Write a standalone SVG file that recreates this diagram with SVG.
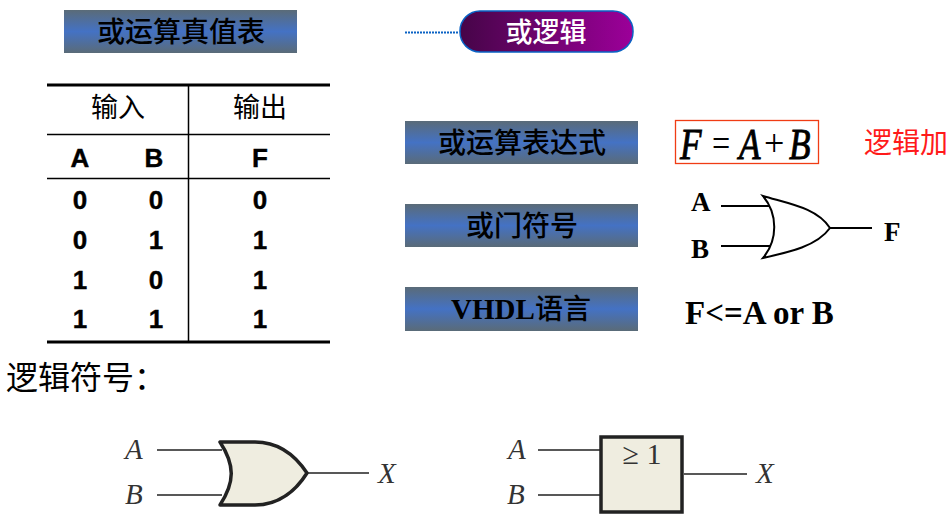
<svg xmlns="http://www.w3.org/2000/svg" width="950" height="525" viewBox="0 0 950 525">
<style>
.cn{font-family:"Noto Sans CJK SC",sans-serif}
.sa{font-family:"Liberation Sans",Arial,sans-serif;font-weight:bold;font-size:26px;text-anchor:middle;fill:#000;stroke:#000;stroke-width:.4}
.tt{font-size:28px;text-anchor:middle;fill:#000;font-family:"Noto Sans CJK SC",sans-serif;font-weight:500}
.th{font-size:27px;text-anchor:middle;fill:#000;font-family:"Noto Sans CJK SC",sans-serif}
.bar{fill:url(#bg)}
.it{font-family:"Liberation Serif",serif;font-style:italic;font-size:29px;fill:#333}
.eq{font-family:"Liberation Serif",serif;font-style:italic;font-size:44px;fill:#000;stroke:#000;stroke-width:.9}
.op{font-family:"Liberation Serif",serif;font-size:38px;fill:#000}
.w{stroke:#000;stroke-width:2;fill:none}
.w2{stroke:#222;stroke-width:1.600;fill:none}
.b{font-family:"Liberation Serif",serif;font-weight:bold;fill:#000}
</style>
<defs>
<linearGradient id="bg" x1="0" y1="0" x2="0" y2="1"><stop offset="0" stop-color="#5a6b78"/><stop offset="0.5" stop-color="#4472c4"/><stop offset="1" stop-color="#5a6b78"/></linearGradient>
<linearGradient id="pg" x1="0" y1="0" x2="1" y2="0"><stop offset="0" stop-color="#460548"/><stop offset="1" stop-color="#9c0099"/></linearGradient>
</defs>
<g id="title-truth"><rect class="bar" x="64" y="10" width="233" height="43"/><text class="tt" x="181" y="42">或运算真值表</text></g>
<g id="connectors">
<line x1="405" y1="32.500" x2="459" y2="32.500" stroke="#0a62c4" stroke-width="2" stroke-dasharray="2 1"/>
<path class="w" d="M721 206H771M721 246H771M830 228H872"/>
<path class="w2" d="M157 450H222M157 495H222M307 473H369"/>
<path class="w2" d="M538 450H601M538 495H601M684 474H747"/>
</g>
<g id="title-or"><rect x="460" y="11" width="173" height="41" rx="20" fill="url(#pg)" stroke="#0a62c4" stroke-width="1.500"/><text x="546" y="42" font-size="27" text-anchor="middle" fill="#fff" class="cn" font-weight="500">或逻辑</text></g>
<g id="truth-table">
<path d="M47 85H330M47 342H330" stroke="#000" stroke-width="3" fill="none"/>
<path d="M47 134.500H330M47 178.500H330M188.500 85V342" stroke="#000" stroke-width="1.500" fill="none"/>
<text class="th" x="118" y="117">输入</text><text class="th" x="260" y="117">输出</text>
<text class="sa" x="80" y="167">A</text><text class="sa" x="154" y="167">B</text><text class="sa" x="260" y="167">F</text>
<text class="sa" x="80" y="209">0</text><text class="sa" x="156" y="209">0</text><text class="sa" x="260" y="209">0</text>
<text class="sa" x="80" y="249">0</text><text class="sa" x="156" y="249">1</text><text class="sa" x="260" y="249">1</text>
<text class="sa" x="80" y="289">1</text><text class="sa" x="156" y="289">0</text><text class="sa" x="260" y="289">1</text>
<text class="sa" x="80" y="328">1</text><text class="sa" x="156" y="328">1</text><text class="sa" x="260" y="328">1</text>
</g>
<g id="expr-label"><rect class="bar" x="405" y="121" width="233" height="43"/><text class="tt" x="522" y="153">或运算表达式</text></g>
<g id="gate-label"><rect class="bar" x="405" y="204" width="233" height="43"/><text class="tt" x="522" y="236">或门符号</text></g>
<g id="vhdl-label"><rect class="bar" x="405" y="287" width="233" height="44"/><text x="521" y="319" text-anchor="middle" font-size="29" class="b">VHDL<tspan class="tt" font-size="27">语言</tspan></text></g>
<g id="expression"><rect x="675.500" y="120.500" width="143" height="43" fill="none" stroke="#f03c14" stroke-width="1.300"/>
<text class="eq" transform="translate(680 159) scale(.8 1)">F</text>
<text class="op" transform="translate(712 156) scale(.85 1)">=</text>
<text class="eq" transform="translate(739 159) scale(.8 1)">A</text>
<text class="op" transform="translate(764 156) scale(.95 1)">+</text>
<text class="eq" transform="translate(789 159) scale(.8 1)">B</text></g>
<g id="logic-add"><text x="864" y="153" font-size="28" fill="#ff1a1a" class="cn">逻辑加</text></g>
<g id="or-gate-small"><path d="M763 196C790 204 817 208 830 228C817 246 790 252 763 258C778 240 778 214 763 196Z" fill="#fff" stroke="#000" stroke-width="2"/>
<text class="b" x="691" y="211" font-size="27">A</text><text class="b" x="691" y="258" font-size="27">B</text><text class="b" x="884" y="241" font-size="27">F</text></g>
<g id="vhdl-code"><text class="b" x="685" y="324" font-size="33">F&lt;=A or B</text></g>
<g id="logic-symbol-title"><text x="6" y="389" font-size="32" class="cn" fill="#000">逻辑符号：</text></g>
<g id="or-gate-large"><path d="M220 442H255C280 442 297 458 307 473C297 489 280 505 255 505H220C235 482 235 465 220 442Z" fill="#efede0" stroke="#222" stroke-width="3.500" stroke-linejoin="round"/>
<text class="it" x="125" y="459">A</text><text class="it" x="125" y="504">B</text><text class="it" x="378" y="483">X</text></g>
<g id="or-box"><rect x="601" y="437" width="81" height="75" fill="#efede0" stroke="#222" stroke-width="3.500"/>
<text x="642" y="464" font-family="Liberation Serif,serif" font-size="30" fill="#333" text-anchor="middle">≥ 1</text>
<text class="it" x="508" y="459">A</text><text class="it" x="507" y="504">B</text><text class="it" x="756" y="483">X</text></g>
</svg>
